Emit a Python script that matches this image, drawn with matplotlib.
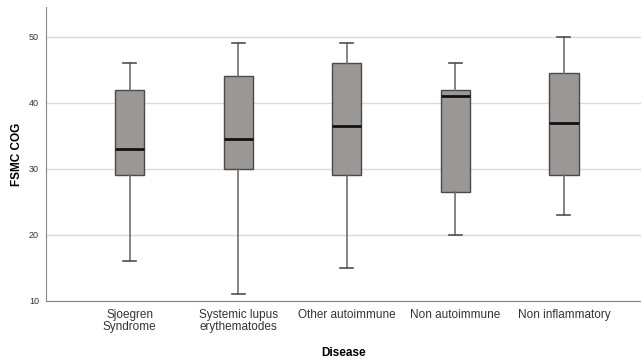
import matplotlib
matplotlib.use("Agg")
import matplotlib.pyplot as plt

plt.rcParams["font.family"] = ["Liberation Sans", "DejaVu Sans"]

# values
diseases = ["Sjoegren\nSyndrome", "Systemic lupus\nerythematodes", "Other autoimmune",
            "Non autoimmune", "Non inflammatory"]
whislo = [16, 11, 15, 20, 23]
q1 = [29, 30, 29, 26.5, 29]
med = [33, 34.5, 36.5, 41, 37]
q3 = [42, 44, 46, 42, 44.5]
whishi = [46, 49, 49, 46, 50]

stats = []
for i in range(len(diseases)):
    stats.append({"whislo": whislo[i], "q1": q1[i], "med": med[i],
                  "q3": q3[i], "whishi": whishi[i], "fliers": []})

fig = plt.figure(figsize=(6.41, 3.6), dpi=100)
ax = fig.add_axes([46/641, 1 - 301/360, 595/641, 294/360])

ax.bxp(stats, positions=range(len(diseases)), widths=0.27, patch_artist=True,
       showfliers=False,
       boxprops=dict(facecolor="#9b9795", edgecolor="#4a4a4a", linewidth=1.0),
       medianprops=dict(color="#111111", linewidth=2.0),
       whiskerprops=dict(color="#707070", linewidth=1.2),
       capprops=dict(color="#505050", linewidth=1.2),
       capwidths=0.12)

ax.set_xlim(-0.77, 4.71)
ax.set_ylim(10, 54.5)
ax.set_yticks([10, 20, 30, 40, 50])
ax.yaxis.grid(True, color="#dadada", linewidth=1.0)
ax.set_axisbelow(True)
ax.set_xticks(range(len(diseases)))
ax.set_xticklabels(diseases, fontsize=8.5, color="#333333", linespacing=0.95)
ax.tick_params(axis="y", labelsize=6.5, colors="#333333", length=0, pad=5)
ax.tick_params(axis="x", length=0, pad=6)

for s in ["top", "right"]:
    ax.spines[s].set_visible(False)
for s in ["left", "bottom"]:
    ax.spines[s].set_color("#888888")

ax.set_ylabel("FSMC COG", fontsize=8.5, fontweight="bold", labelpad=4)
ax.set_xlabel("Disease", fontsize=8.5, fontweight="bold", labelpad=10)

fig.savefig("out.png", dpi=100)
